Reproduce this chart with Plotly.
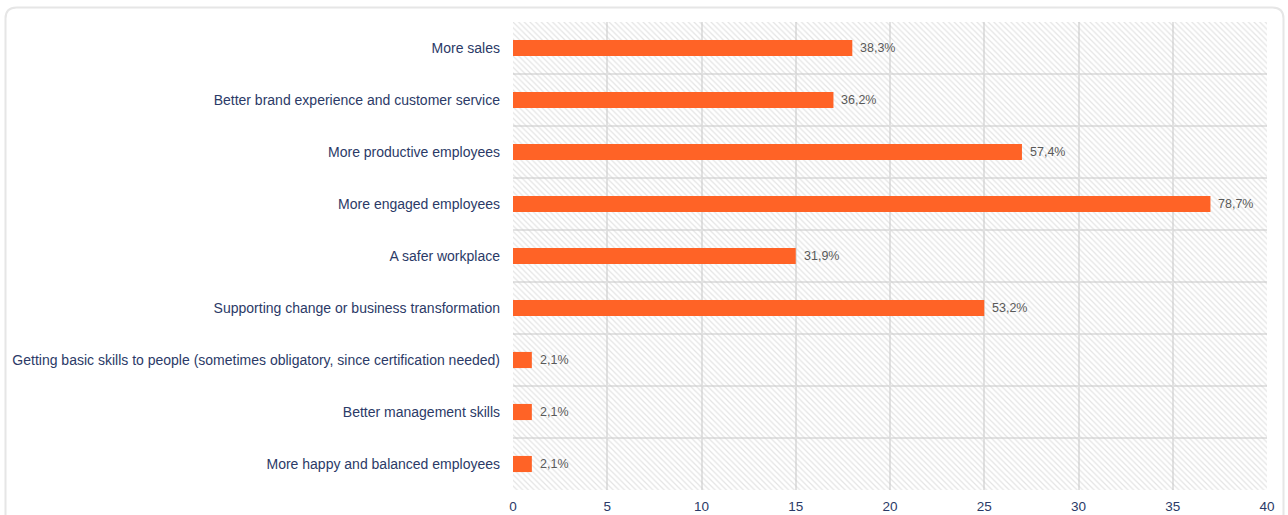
import plotly.graph_objects as go

# Survey: expected benefits of learning programmes (47 respondents)
categories = [
    "More sales",
    "Better brand experience and customer service",
    "More productive employees",
    "More engaged employees",
    "A safer workplace",
    "Supporting change or business transformation",
    "Getting basic skills to people (sometimes obligatory, since certification needed)",
    "Better management skills",
    "More happy and balanced employees",
]
counts = [18, 17, 27, 37, 15, 25, 1, 1, 1]
respondents = 47
x_max = 40
x_ticks = [0, 5, 10, 15, 20, 25, 30, 35, 40]

shares = [c / respondents * 100 for c in counts]
share_labels = [f"{s:.1f}".replace(".", ",") + "%" for s in shares]

NAVY = "#2b3a67"
ORANGE = "#ff6326"
GRID = "#e2e2e2"
FONT = "Liberation Sans, Arial, sans-serif"

fig = go.Figure()

# hatched plot-area background
fig.add_trace(go.Bar(
    y=categories, x=[x_max] * len(categories), orientation="h", width=1,
    marker=dict(color="rgba(0,0,0,0)", line=dict(width=0),
                pattern=dict(shape="\\", size=4, solidity=0.3,
                             fgcolor="#c9c9c9", bgcolor="rgba(0,0,0,0)")),
    hoverinfo="skip", showlegend=False,
))

fig.add_trace(go.Bar(
    y=categories, x=counts, orientation="h", width=0.31,
    marker=dict(color=ORANGE, line=dict(width=0)),
    customdata=share_labels,
    hovertemplate="%{y}: %{x} (%{customdata})<extra></extra>",
    showlegend=False,
))

annotations = [
    dict(x=c, y=cat, text=lab, showarrow=False, xanchor="left", xshift=6,
         font=dict(family=FONT, size=12.5, color="#595959"))
    for c, cat, lab in zip(counts, categories, share_labels)
]

# rounded outer card border
pw, ph = 1288 - 513 - 21, 515 - 22 - 25
def px(x):
    return (x - 513) / pw
def py(y):
    return (490 - y) / ph
r = 11
x0, x1, y0, y1 = 5.5, 1283.5, 7.5, 540
path = (
    f"M {px(x0)},{py(y1)} L {px(x0)},{py(y0 + r)} "
    f"Q {px(x0)},{py(y0)} {px(x0 + r)},{py(y0)} "
    f"L {px(x1 - r)},{py(y0)} Q {px(x1)},{py(y0)} {px(x1)},{py(y0 + r)} "
    f"L {px(x1)},{py(y1)}"
)

fig.update_layout(
    width=1288, height=515,
    margin=dict(l=513, r=21, t=22, b=25, autoexpand=False),
    paper_bgcolor="white", plot_bgcolor="white",
    barmode="overlay",
    font=dict(family=FONT, size=12, color=NAVY),
    annotations=annotations,
    shapes=[dict(type="path", path=path, xref="paper", yref="paper",
                 line=dict(color="#e6e6e6", width=2), layer="below")],
    xaxis=dict(range=[0, x_max], tickvals=x_ticks, showgrid=True, gridcolor=GRID,
               gridwidth=1.5, zeroline=False, showline=False, ticks="",
               automargin=False, ticklabelstandoff=6,
               tickfont=dict(size=13.5, color=NAVY), fixedrange=True),
    yaxis=dict(categoryorder="array", categoryarray=categories, autorange="reversed",
               tickson="boundaries", showgrid=True, gridcolor=GRID, gridwidth=1.5,
               ticks="", ticklabelstandoff=12, showline=False, zeroline=False,
               automargin=False,
               tickfont=dict(size=14, color=NAVY), fixedrange=True),
)

fig.write_html("out.html")
